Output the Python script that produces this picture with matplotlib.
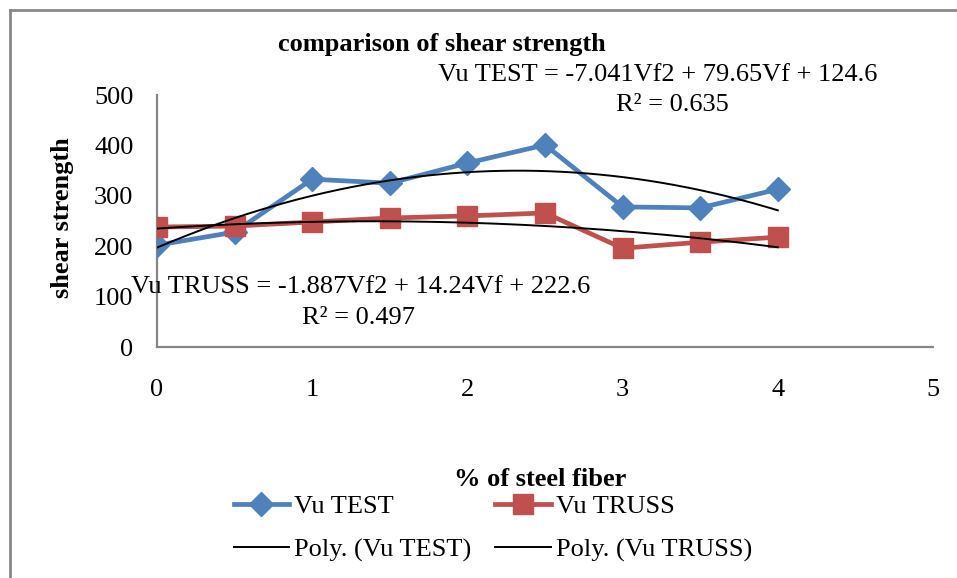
import matplotlib
matplotlib.use("Agg")
import matplotlib.pyplot as plt
import numpy as np
from matplotlib.lines import Line2D

plt.rcParams['font.family'] = ['Liberation Serif', 'DejaVu Serif']

fiber = [0, 0.5, 1, 1.5, 2, 2.5, 3, 3.5, 4]
vu_test = [202, 228, 333, 325, 365, 401, 278, 276, 313]
vu_truss = [238, 240, 248, 256, 260, 266, 196, 208, 218]
test_coef = [-7.041, 79.65, 124.6]
truss_coef = [-1.887, 14.24, 222.6]

FS = 19
fig = plt.figure(figsize=(9.57, 5.78), dpi=100)
ax = fig.add_axes([157/957, 1-347/578, (933-157)/957, (347-95)/578])

blue = '#4F81BD'
red = '#C0504D'
ax.plot(fiber, vu_test, color=blue, lw=3.4, marker='D', ms=12, zorder=3)
ax.plot(fiber, vu_truss, color=red, lw=3.4, marker='s', ms=14, zorder=3)

xs = np.linspace(fiber[0], fiber[-1], 200)
idx = 2*xs + 1
ax.plot(xs, np.polyval(test_coef, idx), color='black', lw=1.4, zorder=4)
ax.plot(xs, np.polyval(truss_coef, idx), color='black', lw=1.4, zorder=4)

ax.set_xlim(0, 5)
ax.set_ylim(0, 500)
ax.set_xticks([0, 1, 2, 3, 4, 5])
ax.set_yticks([0, 100, 200, 300, 400, 500])
ax.tick_params(axis='both', length=0, labelsize=FS)
ax.tick_params(axis='x', pad=23)
ax.tick_params(axis='y', pad=17)
for s in ['top', 'right']:
    ax.spines[s].set_visible(False)
for s in ['left', 'bottom']:
    ax.spines[s].set_color('#868686')
    ax.spines[s].set_linewidth(1.6)

fig.text(442/957, 1-45/578, 'comparison of shear strength', ha='center', va='center',
         fontsize=FS, fontweight='bold')
fig.text(658/957, 1-75/578, 'Vu TEST = -7.041Vf2 + 79.65Vf + 124.6', ha='center', va='center', fontsize=FS)
fig.text(672/957, 1-105/578, 'R² = 0.635', ha='center', va='center', fontsize=FS)
fig.text(361/957, 1-287/578, 'Vu TRUSS = -1.887Vf2 + 14.24Vf + 222.6', ha='center', va='center', fontsize=FS)
fig.text(359/957, 1-318/578, 'R² = 0.497', ha='center', va='center', fontsize=FS)
fig.text(62/957, 1-218/578, 'shear strength', ha='center', va='center', rotation=90,
         fontsize=FS, fontweight='bold')
fig.text(540/957, 1-480/578, '% of steel fiber', ha='center', va='center', fontsize=FS, fontweight='bold')

handles = [
    Line2D([], [], color=blue, lw=3.4, marker='D', ms=12),
    Line2D([], [], color='black', lw=1.4),
    Line2D([], [], color=red, lw=3.4, marker='s', ms=14),
    Line2D([], [], color='black', lw=1.4),
]
labels = ['Vu TEST', 'Poly. (Vu TEST)', 'Vu TRUSS', 'Poly. (Vu TRUSS)']
fig.legend(handles, labels, ncol=2, frameon=False, fontsize=FS,
           loc='center', bbox_to_anchor=(493/957, 1-528/578),
           handlelength=2.1, handletextpad=0.2, columnspacing=0.9, labelspacing=0.75)

fig.add_artist(Line2D([10/957, 1.0], [1-10/578, 1-10/578], color='#888888', lw=2, transform=fig.transFigure))
fig.add_artist(Line2D([10/957, 10/957], [1-10/578, 0], color='#888888', lw=2, transform=fig.transFigure))

fig.savefig('out.png', dpi=100)
